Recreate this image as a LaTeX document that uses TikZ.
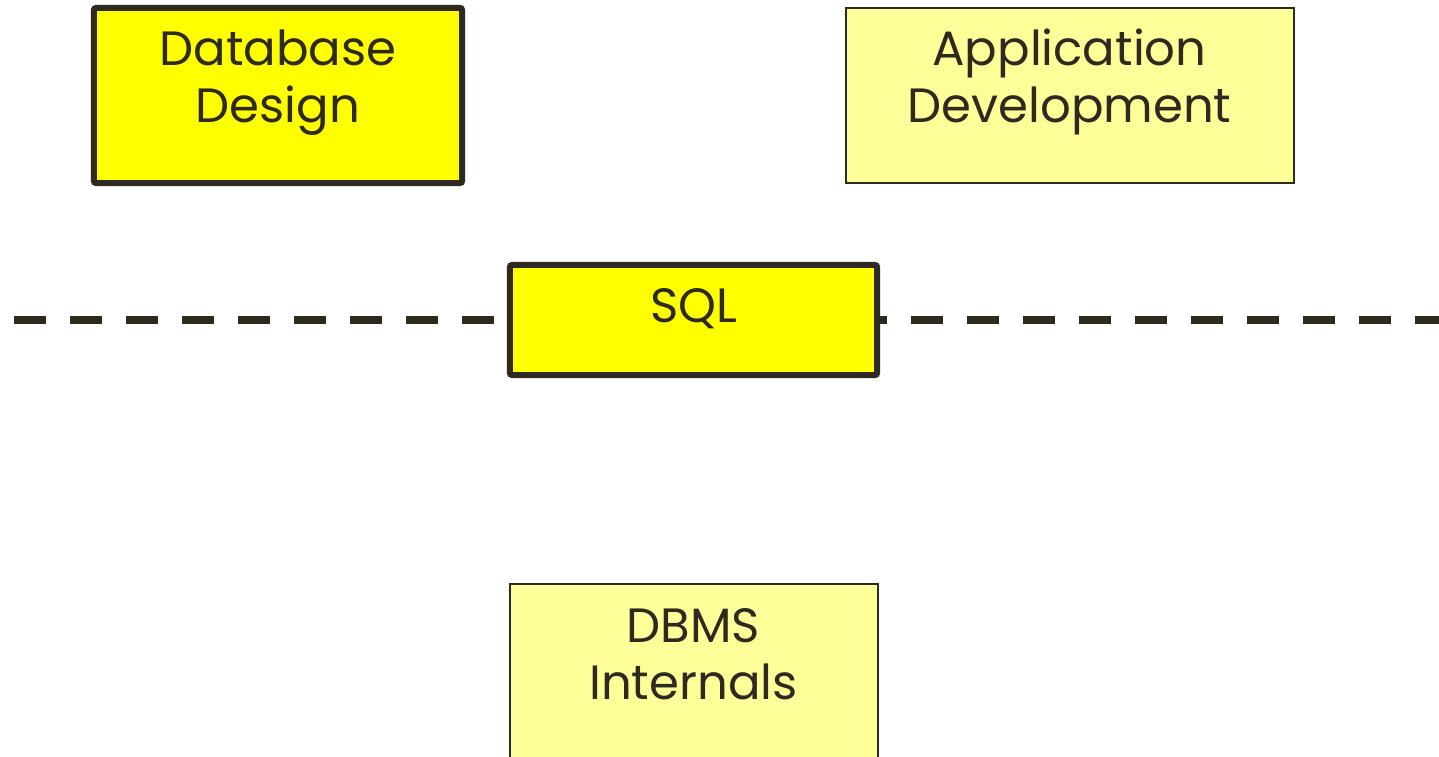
\documentclass[tikz,border=0pt]{standalone}
\usepackage{fontspec}
\setmainfont{Poppins}
\usepackage{tikz}
\usetikzlibrary{shapes}
\definecolor{ink}{HTML}{2F2A1F}
\definecolor{hiyellow}{HTML}{FFFF00}
\definecolor{loyellow}{HTML}{FFFF99}

\tikzset{
  boldbox/.style={draw=ink, fill=hiyellow, line width=1.7pt, rounded corners=0.6pt, rectangle},
  thinbox/.style={draw=ink, fill=loyellow, line width=0.6pt, rectangle},
  boxlabel/.style={text=ink, align=center, anchor=base, inner sep=0pt,
    font=\fontsize{13.7pt}{16.2pt}\selectfont}
}

\begin{document}
\begin{tikzpicture}[x=0.01cm, y=-0.01cm]
\useasboundingbox (0,0) rectangle (1439,756);

% the dashed layer line, behind SQL
\coordinate (lineL) at (14,320);
\coordinate (lineR) at (1439,320);
\draw [ink, line width=2.27pt, dash pattern=on 0.32cm off 0.24cm] (lineL) -- (lineR);

\node [boldbox, minimum width=3.68cm, minimum height=1.75cm] (dbd) at (278,95.5) {};
\node [thinbox, minimum width=4.48cm, minimum height=1.75cm] (app) at (1070,95.5) {};
\node [boldbox, minimum width=3.67cm, minimum height=1.10cm] (sql) at (693.5,320) {};
\node [thinbox, minimum width=3.68cm, minimum height=1.86cm] (dbms) at (694,677) {};

% base anchor sits on the last line
\node [boxlabel] (dbdtext) at (278,122) {Database\\Design};
\node [boxlabel] (apptext) at (1069.5,122) {Application\\Development};
\node [boxlabel] (sqltext) at (694,322) {SQL};
\node [boxlabel] (dbmstext) at (693.5,699) {DBMS\\Internals};

%\draw [->] (sql) -- (dbms);
\end{tikzpicture}
\end{document}
